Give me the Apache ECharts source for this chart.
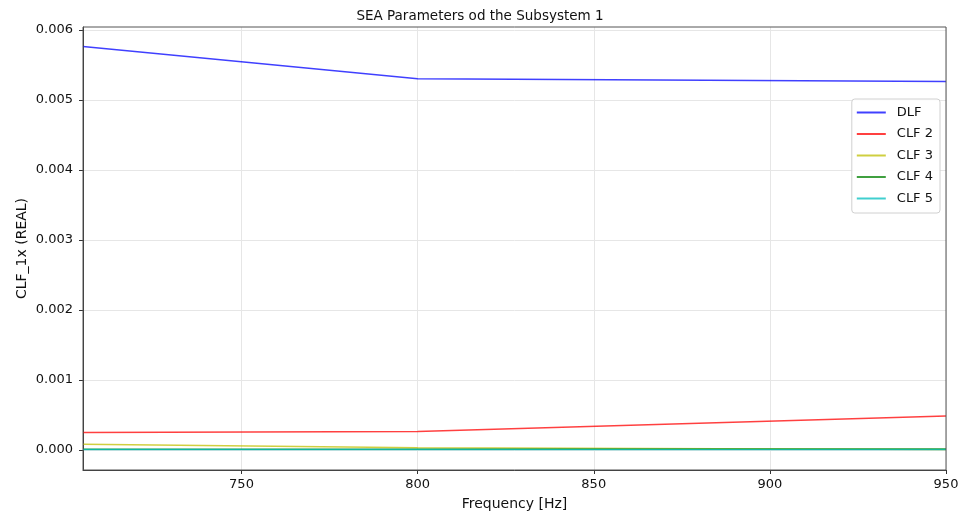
<!DOCTYPE html>
<html>
<head>
<meta charset="utf-8">
<script src="https://cdn.jsdelivr.net/npm/echarts@6/dist/echarts.min.js"></script>
<style>
  html, body { margin: 0; padding: 0; background: #fff; }
  #chart { width: 960px; height: 513px; }
</style>
</head>
<body>
<div id="chart"></div>
<script>
// Frequency bands [Hz]
const freq = [705, 800, 950];
// Loss factors of subsystem 1
const dlf  = [0.00576, 0.00530, 0.00526];
const clf2 = [0.000250, 0.000262, 0.000486];
const clf3 = [0.000080, 0.000030, 0.000005];
const clf4 = [0.000012, 0.000012, 0.000014];
const clf5 = [0.000006, 0.000006, 0.000008];

const xTicks = [750, 800, 850, 900, 950];
const yTicks = [0, 0.001, 0.002, 0.003, 0.004, 0.005, 0.006];

const seriesDefs = [
  { name: 'DLF',   data: dlf,  color: '#0000ff' },
  { name: 'CLF 2', data: clf2, color: '#ff0000' },
  { name: 'CLF 3', data: clf3, color: '#bfbf00' },
  { name: 'CLF 4', data: clf4, color: '#008000' },
  { name: 'CLF 5', data: clf5, color: '#00bfbf' }
];

const font = 'DejaVu Sans';
const chart = echarts.init(document.getElementById('chart'), null, { renderer: 'canvas' });

chart.setOption({
  animation: false,
  backgroundColor: '#ffffff',
  textStyle: { fontFamily: font },
  title: {
    text: 'SEA Parameters od the Subsystem 1',
    left: 'center',
    top: 4,
    textStyle: { fontFamily: font, fontSize: 13.5, fontWeight: 'normal', color: '#111' }
  },
  legend: {
    orient: 'vertical',
    right: 20,
    top: 99,
    itemWidth: 29,
    itemHeight: 2,
    itemGap: 8.5,
    padding: [7, 7, 8, 5],
    backgroundColor: 'rgba(255,255,255,0.9)',
    borderColor: '#d0d0d0',
    borderWidth: 1,
    borderRadius: 3,
    textStyle: { fontFamily: font, fontSize: 13, color: '#111', padding: [0, 0, 0, 6] },
    data: seriesDefs.map(s => ({ name: s.name, icon: 'rect' }))
  },
  grid: { left: 83, right: 14, top: 27, bottom: 43, outerBoundsMode: 'none' },
  xAxis: {
    type: 'value',
    min: 705,
    max: 950,
    name: 'Frequency [Hz]',
    nameLocation: 'middle',
    nameGap: 27,
    nameMoveOverlap: false,
    nameTextStyle: { fontFamily: font, fontSize: 14, color: '#111' },
    axisLine: { onZero: false, lineStyle: { color: '#333', width: 1 } },
    axisTick: { customValues: xTicks, length: 4, lineStyle: { color: '#333' } },
    axisLabel: { customValues: xTicks, fontFamily: font, fontSize: 13, color: '#111', margin: 8 },
    splitLine: { show: true, lineStyle: { color: '#e6e6e6', width: 1 } }
  },
  yAxis: {
    type: 'value',
    min: -0.000286,
    max: 0.00604,
    name: 'CLF_1x (REAL)',
    nameLocation: 'middle',
    nameGap: 54,
    nameMoveOverlap: false,
    nameTextStyle: { fontFamily: font, fontSize: 14, color: '#111' },
    axisLine: { show: true, onZero: false, lineStyle: { color: '#333', width: 1 } },
    axisTick: { show: true, customValues: yTicks, length: 4, lineStyle: { color: '#333' } },
    axisLabel: {
      customValues: yTicks,
      fontFamily: font, fontSize: 13, color: '#111', margin: 10,
      formatter: v => v.toFixed(3)
    },
    splitLine: { show: true, lineStyle: { color: '#e6e6e6', width: 1 } }
  },
  series: seriesDefs.map(s => ({
    name: s.name,
    type: 'line',
    showSymbol: false,
    symbol: 'none',
    color: s.color,
    lineStyle: { color: s.color, width: 1.5, opacity: 0.75 },
    itemStyle: { color: s.color, opacity: 0.75 },
    data: freq.map((f, i) => [f, s.data[i]])
  })),
  graphic: [{
    type: 'rect',
    shape: { x: 83, y: 27, width: 863, height: 443 },
    style: { fill: 'none', stroke: '#555', lineWidth: 1 },
    silent: true,
    z: 100
  }]
});
</script>
</body>
</html>
